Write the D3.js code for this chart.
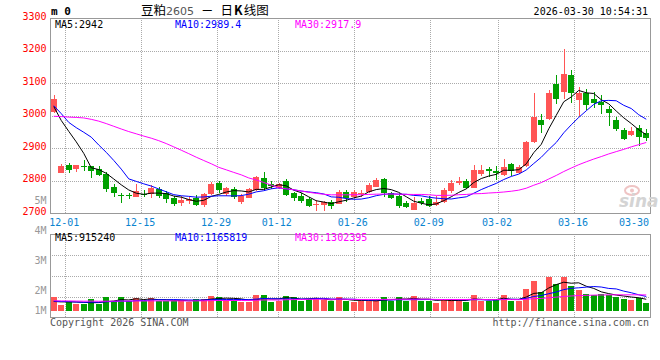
<!DOCTYPE html>
<html><head><meta charset="utf-8">
<script src="https://cdn.jsdelivr.net/npm/d3@7"></script>
<style>body{margin:0;background:#fff}svg{display:block}</style>
</head><body>
<svg id="c" width="660" height="360"></svg>
<script>
// ---------- data ----------
const dates = ["11-27","11-28","12-01","12-02","12-03","12-04","12-05","12-08","12-09","12-10","12-11","12-12",
"12-15","12-16","12-17","12-18","12-19","12-22","12-23","12-24","12-25","12-26","12-29","12-30","12-31",
"01-05","01-06","01-07","01-08","01-09","01-12","01-13","01-14","01-15","01-16","01-19","01-20","01-21","01-22","01-23",
"01-26","01-27","01-28","01-29","01-30","02-02","02-03","02-04","02-05","02-06","02-09","02-10","02-11","02-12","02-13",
"02-24","02-25","02-26","02-27","03-02","03-03","03-04","03-05","03-06","03-09","03-10","03-11","03-12","03-13",
"03-16","03-17","03-18","03-19","03-20","03-23","03-24","03-25","03-26","03-27","03-30"];
const open  = [3012,2825,2848,2835,2847,2845,2835,2821,2782,2755,2756,2751,2760,2758,2775,2761,2746,2732,2739,2746,2727,2758,2792,2759,2774,
2734,2748,2771,2810,2789,2777,2799,2761,2754,2744,2727,2727,2736,2730,2766,2751,2761,2766,2782,2805,2764,2754,2733,2711,2739,
2744,2725,2735,2768,2793,2799,2779,2820,2836,2831,2818,2851,2825,2845,2920,2987,2990,3098,3074,3125,3050,3071,3051,3041,3021,
2987,2956,2941,2963,2946];
const high  = [3064,2853,2855,2849,2864,2846,2845,2828,2790,2761,2761,2790,2771,2787,2782,2768,2754,2754,2749,2756,2763,2797,2800,2782,2782,
2759,2779,2815,2828,2800,2794,2806,2765,2761,2751,2741,2739,2741,2771,2771,2773,2773,2794,2810,2810,2766,2761,2738,2749,2748,
2753,2753,2778,2802,2812,2805,2848,2848,2843,2845,2867,2856,2850,2922,3069,3005,3079,3125,3205,3141,3089,3084,3074,3064,3030,
2995,2961,2966,2971,2958];
const low   = [3010,2823,2825,2828,2830,2810,2816,2766,2751,2733,2743,2749,2751,2746,2748,2733,2723,2723,2730,2723,2718,2756,2762,2754,2744,
2730,2746,2770,2771,2774,2774,2754,2739,2733,2718,2707,2707,2713,2728,2736,2746,2751,2764,2780,2751,2744,2717,2715,2709,2726,
2720,2723,2733,2761,2787,2776,2777,2814,2812,2804,2814,2815,2820,2843,2917,2946,2988,3036,3051,3040,2999,3017,3023,3005,2969,
2954,2925,2937,2908,2922];
const close = [3053,2845,2833,2848,2843,2831,2818,2775,2761,2753,2752,2768,2758,2779,2754,2744,2730,2741,2743,2727,2759,2790,2772,2779,2749,
2754,2774,2812,2779,2785,2790,2756,2746,2739,2722,2730,2736,2722,2767,2746,2766,2764,2787,2802,2763,2748,2722,2720,2733,2732,
2724,2735,2771,2792,2799,2779,2832,2833,2830,2825,2843,2830,2843,2920,2997,2971,3069,3051,3128,3071,3071,3033,3040,3032,3008,
2960,2929,2952,2936,2933];
const volume = [1230000,530000,820000,610000,610000,1050000,610000,1230000,880000,1230000,900000,1140000,880000,1140000,900000,880000,880000,
960000,820000,1050000,1050000,1340000,1230000,960000,960000,820000,820000,1400000,1400000,820000,880000,1340000,1230000,880000,1020000,
1140000,960000,880000,1230000,880000,760000,880000,880000,1050000,1230000,880000,1230000,880000,1320000,880000,880000,700000,1050000,
1050000,960000,820000,1400000,880000,880000,1050000,1400000,880000,880000,1930000,2630000,1670000,2980000,2370000,2980000,2190000,
1840000,1490000,1400000,1490000,1400000,1230000,1050000,960000,1170000,730000];
// closes / volumes of the 29 sessions before the visible window (estimated, for the moving averages)
const priorClose = [2870,2885,2878,2890,2960,2985,3000,3010,3003,2990,2975,2968,2972,2985,3010,3035,3050,3060,3055,3064,
3090,3102,3010,2985,2981,3060,3000,3010,3020];
const priorVolume = [950000,880000,1020000,900000,850000,970000,1050000,920000,880000,800000,930000,1000000,860000,910000,980000,
840000,900000,950000,870000,920000,830000,960000,890000,940000,850000,720000,780000,700000,750000];
const priceTicks = [3300,3200,3100,3000,2900,2800,2700];
const volTickLabels = ["5M","4M","3M","2M","1M"];
const volTickValues = [5,4,3,2,1];
const dateTicks = ["12-01","12-15","12-29","01-12","01-26","02-09","03-02","03-16","03-30"];
const maPeriods = [5,10,30];
const maColors = ["#000000","#0000ff","#ff00ff"];
const priceLegend = ["MA5:2942","MA10:2989.4","MA30:2917.9"];
const volLegend = ["MA5:915240","MA10:1165819","MA30:1302395"];
const titleParts = ["豆粕","2605","－","日","K","线图"];
const stamp = "2026-03-30 10:54:31";

// ---------- layout ----------
const L = 50, R = 650, mTop = 18.3, mBot = 213.3, vTop = 234.3, vBot = 317.7, vBase = 311;
const UP = "#ff5555", DN = "#00a000", GRID = "#aaaaaa", BORDER = "#999999";
const MONO = "'DejaVu Sans Mono', 'Liberation Mono', monospace";

const svg = d3.select("#c");
svg.append("rect").attr("width",660).attr("height",360).attr("fill","#fff");

const idx = d3.range(dates.length);
const x = d3.scaleBand().domain(idx).range([L,R]).paddingInner(0.24).paddingOuter(0.12);
const xg = d3.scalePoint().domain(dates).range([L,R]);
const y = d3.scaleLinear().domain([2700,3300]).range([mBot,mTop]);
const yv = d3.scaleLinear().domain([0,6.73e6]).range([vBase,vTop]);
const yvLabel = d3.scaleLinear().domain([5,2,1]).range([200.7,290.7,310.7]);

const px = v => Math.round(v) + 0.5;

// ---------- grids ----------
const g = svg.append("g").attr("stroke",GRID).attr("stroke-dasharray","1,1").attr("shape-rendering","crispEdges");
priceTicks.filter(t => t < 3300 && t > 2700).forEach(t => {
  g.append("line").attr("x1",L).attr("x2",R).attr("y1",px(y(t))).attr("y2",px(y(t)));
});
d3.range(1,4).forEach(k => {
  const yy = px(vTop + k*(vBot-vTop)/4);
  g.append("line").attr("x1",L).attr("x2",R).attr("y1",yy).attr("y2",yy);
});
dateTicks.forEach(d => {
  const xx = xg(d);
  if (xx >= R - 1) return;
  g.append("line").attr("x1",px(xx)).attr("x2",px(xx)).attr("y1",mTop).attr("y2",mBot);
  g.append("line").attr("x1",px(xx)).attr("x2",px(xx)).attr("y1",vTop).attr("y2",vBot);
});

// ---------- borders ----------
const b = svg.append("g").attr("stroke",BORDER).attr("fill","none").attr("shape-rendering","crispEdges");
[[mTop,mBot],[vTop,vBot]].forEach(([t,bt]) => {
  b.append("rect").attr("x",px(L)).attr("y",px(t)).attr("width",Math.round(R-L)).attr("height",Math.round(bt-t));
});

// ---------- watermark ----------
const wm = svg.append("g");
wm.append("ellipse").attr("cx",632).attr("cy",190.5).attr("rx",7).attr("ry",4.5)
  .attr("fill","none").attr("stroke","#efc4c4").attr("stroke-width",2);
wm.append("circle").attr("cx",632).attr("cy",190.5).attr("r",2).attr("fill","#efc4c4");
wm.append("text").attr("x",619).attr("y",207).attr("font-family","'DejaVu Sans', sans-serif")
  .attr("font-style","italic").attr("font-weight","bold").attr("font-size",17).attr("fill","#d4d4d4").text("sina");

// ---------- candles ----------
const bw = Math.round(x.bandwidth());
const cg = svg.append("g").attr("shape-rendering","crispEdges");
idx.forEach(i => {
  const col = close[i] >= open[i] ? UP : DN;
  const cx = Math.round(x(i)) + Math.floor(bw/2) + 0.5;
  cg.append("line").attr("x1",cx).attr("x2",cx).attr("y1",Math.round(y(high[i]))).attr("y2",Math.round(y(low[i])))
    .attr("stroke",col);
  const top = Math.round(y(Math.max(open[i],close[i])));
  const bot = Math.round(y(Math.min(open[i],close[i])));
  cg.append("rect").attr("x",Math.round(x(i))).attr("y",top).attr("width",bw).attr("height",Math.max(1,bot-top)).attr("fill",col);
  const vt = Math.round(yv(volume[i]));
  cg.append("rect").attr("x",Math.round(x(i))).attr("y",vt).attr("width",bw).attr("height",Math.round(vBase)-vt).attr("fill",col);
});

// ---------- moving averages ----------
function movingAvg(prior, vals, n) {
  const all = prior.concat(vals);
  return vals.map((v,i) => d3.mean(all.slice(i + prior.length - n + 1, i + prior.length + 1)));
}
maPeriods.forEach((n,k) => {
  const ma = movingAvg(priorClose, close, n);
  const line = d3.line().x((d,i) => x(i) + x.bandwidth()/2).y(d => y(d));
  svg.append("path").attr("d", line(ma)).attr("fill","none").attr("stroke",maColors[k]).attr("stroke-width",1);
  const mv = movingAvg(priorVolume, volume, n);
  const vline = d3.line().x((d,i) => x(i) + x.bandwidth()/2).y(d => yv(d));
  svg.append("path").attr("d", vline(mv)).attr("fill","none").attr("stroke",maColors[k]).attr("stroke-width",1);
});

// ---------- text ----------
const t = svg.append("g").attr("font-family",MONO).attr("font-size",10);
priceTicks.forEach(p => {
  t.append("text").attr("x",46.5).attr("y",y(p)+1.3).attr("text-anchor","end").attr("fill","#ff0000").text(String(p));
});
volTickValues.forEach((v,k) => {
  t.append("text").attr("x",46.5).attr("y",yvLabel(v)+3.5).attr("text-anchor","end").attr("fill","#999999").text(volTickLabels[k]);
});
dateTicks.forEach(d => {
  const xx = xg(d);
  const clamp = xx + 15 > R;
  t.append("text").attr("x", clamp ? R - 1 : xx - 1).attr("y",225.5)
    .attr("text-anchor", clamp ? "end" : "middle").attr("fill","#0a84d0").text(d);
});
const legendX = [55,175,295];
priceLegend.forEach((s,k) => t.append("text").attr("x",legendX[k]).attr("y",27.5).attr("fill",maColors[k]).text(s));
volLegend.forEach((s,k) => t.append("text").attr("x",legendX[k]).attr("y",241).attr("fill",maColors[k]).text(s));

t.append("text").attr("x",51).attr("y",15).attr("font-weight","bold").attr("font-size",11).attr("fill","#000").text("m 0");
t.append("text").attr("x",648).attr("y",15).attr("text-anchor","end").attr("fill","#000").text(stamp);
t.append("text").attr("x",50).attr("y",326).attr("fill","#555").text("Copyright 2026 SINA.COM");
t.append("text").attr("x",649).attr("y",326).attr("text-anchor","end").attr("fill","#555").text("http://finance.sina.com.cn");

const title = svg.append("text").attr("x",141).attr("y",14.5)
  .attr("font-family","'Noto Sans CJK SC', sans-serif").attr("font-size",12.5).attr("fill","#000");
const titleGap = [0,0,7,7,1,1];
titleParts.forEach((s,k) => {
  const ts = title.append("tspan").attr("dx",titleGap[k]).text(s);
  if (k === 1) ts.attr("fill","#555").attr("font-family","'DejaVu Sans', sans-serif").attr("font-size",11);
  if (k === 4) ts.attr("font-weight","bold");
});
</script>
</body></html>
